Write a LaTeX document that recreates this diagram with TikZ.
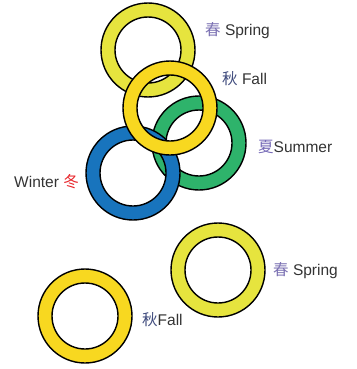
\documentclass[tikz,border=0pt]{standalone}
\usepackage{fontspec}
\setmainfont{Liberation Sans}
\newfontfamily\cjk{Noto Sans CJK SC}
\definecolor{springY}{HTML}{E6E43E}
\definecolor{fallY}{HTML}{F8D820}
\definecolor{sumG}{HTML}{2EB36B}
\definecolor{winB}{HTML}{1874BD}
\definecolor{txt}{HTML}{333333}
\definecolor{chunC}{HTML}{7A70B2}
\definecolor{qiuC}{HTML}{3E4A7C}
\definecolor{xiaC}{HTML}{7468B6}
\definecolor{dongC}{HTML}{E8242A}
\tikzset{
  ringline/.style={draw=black, line width=1.4pt},
  lbl/.style={anchor=base west, inner sep=0pt, text=txt, font=\fontsize{15.5}{18}\selectfont}
}
\newcommand\myring[3]{%
  \fill[#3, even odd rule] (#1,#2) circle[radius=47pt] (#1,#2) circle[radius=33pt];
  \draw[ringline] (#1,#2) circle[radius=47pt] (#1,#2) circle[radius=33pt];
}
\begin{document}
\begin{tikzpicture}[x=1pt,y=-1pt]
\useasboundingbox (0,0) rectangle (356,369);
% top cluster
\myring{199}{143}{sumG}
\myring{133}{173}{winB}
\myring{148}{50}{springY}
\myring{170}{108}{fallY}
% bottom rings
\myring{218}{270}{springY}
\myring{85}{316}{fallY}
% labels
\node[lbl] (l1) at (205,36) {{\cjk\color{chunC}春} Spring};
\node[lbl] (l2) at (222,84) {{\cjk\color{qiuC}秋} Fall};
\node[lbl] (l3) at (258,152) {{\cjk\color{xiaC}夏}Summer};
\node[lbl] (l4) at (14,187) {Winter {\cjk\color{dongC}冬}};
\node[lbl] (l5) at (273,275) {{\cjk\color{chunC}春} Spring};
\node[lbl] (l6) at (142,325) {{\cjk\color{qiuC}秋}Fall};
\end{tikzpicture}
\end{document}
